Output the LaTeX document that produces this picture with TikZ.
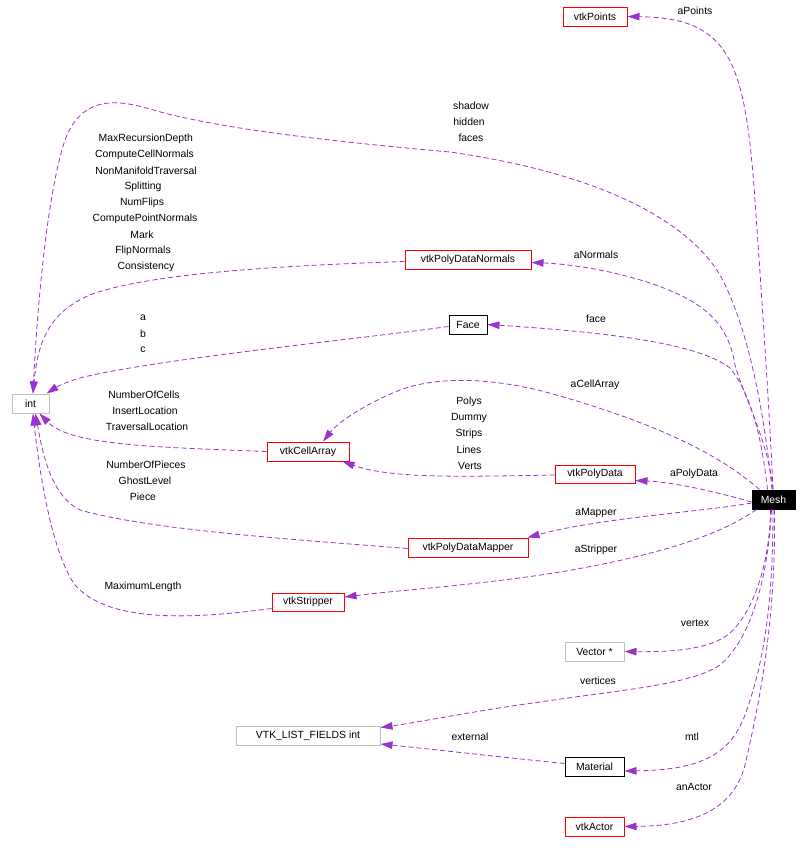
\documentclass[tikz,border=0pt]{standalone}
\usepackage{fontspec}
\setmainfont{Liberation Sans}
\usetikzlibrary{arrows.meta}
\definecolor{purp}{HTML}{9A32CD}
\definecolor{gbox}{HTML}{BFBFBF}
\newcommand\lblfont{\fontsize{10.4}{12}\selectfont}
\begin{document}
\begin{tikzpicture}[x=1pt,y=-1pt,
  box/.style={draw, line width=1pt, inner sep=0pt, font=\lblfont, minimum height=19pt},
  redbox/.style={box, draw=red},
  blkbox/.style={box, draw=black},
  grybox/.style={box, draw=gbox},
  meshbox/.style={box, draw=black, fill=black, text=white},
  edge/.style={draw=purp, line width=0.8pt, dash pattern=on 5pt off 3pt,
    -{Triangle[length=12pt,width=7.5pt,fill=purp]}},
  lab/.style={font=\lblfont, inner sep=0pt}]
\useasboundingbox (0,0) rectangle (808,852);
% nodes
\node[redbox, minimum width=64pt] (vtkpoints) at (595,16.5) {vtkPoints};
\node[redbox, minimum width=126pt] (vtkpdn) at (468,259.5) {vtkPolyDataNormals};
\node[blkbox, minimum width=38pt] (face) at (468,324.5) {Face};
\node[grybox, minimum width=37pt] (int) at (30.5,403.5) {int};
\node[redbox, minimum width=82pt] (cellarray) at (308,451.5) {vtkCellArray};
\node[redbox, minimum width=80pt, minimum height=18pt] (vtkpolydata) at (595,474) {vtkPolyData};
\node[meshbox, minimum width=43pt] (mesh) at (773.5,499.5) {Mesh};
\node[redbox, minimum width=120pt] (vtkpdm) at (468,547.5) {vtkPolyDataMapper};
\node[redbox, minimum width=72pt, minimum height=18pt] (vtkstripper) at (308,602) {vtkStripper};
\node[grybox, minimum width=59pt] (vectorn) at (594.5,651.5) {Vector *};
\node[grybox, minimum width=144pt] (vtklist) at (308,735.5) {VTK\_LIST\_FIELDS int};
\node[blkbox, minimum width=59pt] (material) at (594.5,766.5) {Material};
\node[redbox, minimum width=59pt] (vtkactor) at (594.5,826.5) {vtkActor};
% edges
% aPoints
\draw[edge] ([xshift=-0.5pt]mesh.north) .. controls (770,420) and (762,300) .. (755,200)
  .. controls (745,60) and (730,18) .. (vtkpoints.east);
% shadow hidden faces
\draw[edge] ([xshift=-1.5pt]mesh.north) .. controls (765,420) and (750,330) .. (720,275)
  .. controls (690,225) and (610,175) .. (450,152)
  .. controls (350,143) and (220,130) .. (150,109)
  .. controls (110,97) and (80,100) .. (65,140)
  .. controls (45,200) and (36,330) .. ([xshift=2.5pt]int.north);
% aNormals
\draw[edge] ([xshift=-0.5pt]mesh.north) .. controls (768,440) and (745,400) .. (735,365)
  .. controls (728,320) and (700,300) .. (650,283)
  .. controls (610,270) and (570,264) .. ([yshift=-3pt]vtkpdn.east);
% MaxRecursionDepth ...
\draw[edge] ([yshift=-2pt]vtkpdn.west) .. controls (300,265) and (150,272) .. (90,295)
  .. controls (50,312) and (38,340) .. ([xshift=2.5pt]int.north);
% a b c
\draw[edge] ([yshift=-2pt]face.west) .. controls (350,340) and (150,360) .. (80,378)
  .. controls (65,382) and (55,388) .. ([xshift=-3pt]int.north east);
% face
\draw[edge] ([xshift=-6pt]mesh.north) .. controls (762,440) and (752,395) .. (730,368)
  .. controls (700,345) and (620,333) .. (face.east);
% aCellArray
\draw[edge] ([xshift=8pt]mesh.north west) .. controls (720,455) and (660,425) .. (560,396)
  .. controls (500,378) and (440,375) .. (400,390)
  .. controls (370,402) and (340,420) .. ([xshift=15pt]cellarray.north);
% Polys Dummy Strips Lines Verts
\draw[edge] ([yshift=-1pt]vtkpolydata.west) .. controls (450,477) and (390,478) .. ([xshift=-7pt]cellarray.south east);
% aPolyData
\draw[edge] ([yshift=-2.5pt]mesh.west) .. controls (710,490) and (670,482) .. ([yshift=-6.5pt]vtkpolydata.east);
% NumberOfCells ...
\draw[edge] (cellarray.west) .. controls (150,447) and (70,445) .. ([xshift=9pt]int.south);
% NumberOfPieces ...
\draw[edge] ([yshift=-1pt]vtkpdm.west) .. controls (300,540) and (150,530) .. (80,510)
  .. controls (50,495) and (42,450) .. ([xshift=5pt]int.south);
% aMapper
\draw[edge] ([yshift=-3.5pt]mesh.west) .. controls (700,512) and (600,518) .. ([xshift=-1pt]vtkpdm.north east);
% MaximumLength
\draw[edge] ([yshift=-6.5pt]vtkstripper.west) .. controls (200,618) and (110,625) .. (75,585)
  .. controls (50,550) and (38,460) .. ([xshift=2.5pt]int.south);
% aStripper
\draw[edge] ([xshift=5pt]mesh.south west) .. controls (720,535) and (660,555) .. (560,572)
  .. controls (480,585) and (400,590) .. ([yshift=5pt]vtkstripper.east);
% vertex
\draw[edge] ([xshift=-3pt]mesh.south) .. controls (770,560) and (755,610) .. (730,633)
  .. controls (710,650) and (670,652) .. (vectorn.east);
% vertices
\draw[edge] ([xshift=-2pt]mesh.south) .. controls (768,580) and (750,640) .. (720,665)
  .. controls (690,685) and (620,690) .. (540,702)
  .. controls (480,710) and (420,722) .. ([yshift=8pt]vtklist.east);
% external
\draw[edge] ([yshift=3pt]material.west) .. controls (500,757) and (430,749) .. ([yshift=1.5pt]vtklist.south east);
% mtl
\draw[edge] ([xshift=-0.5pt]mesh.south) .. controls (773,600) and (765,660) .. (745,715)
  .. controls (730,755) and (700,770) .. ([yshift=-4.5pt]material.east);
% anActor
\draw[edge] ([xshift=1pt]mesh.south) .. controls (776,620) and (760,700) .. (745,765)
  .. controls (735,805) and (700,826) .. (vtkactor.east);
% labels
\node[lab] (l1) at (695,11) {aPoints};
\node[lab] (l2) at (471,106) {shadow};
\node[lab] (l3) at (469,122) {hidden};
\node[lab] (l4) at (471,138) {faces};
\node[lab] (l5) at (145.8,139) {MaxRecursionDepth};
\node[lab] (l6) at (144.5,155) {ComputeCellNormals};
\node[lab] (l7) at (146,171) {NonManifoldTraversal};
\node[lab] (l8) at (143,187) {Splitting};
\node[lab] (l9) at (142,203) {NumFlips};
\node[lab] (l10) at (145,219) {ComputePointNormals};
\node[lab] (l11) at (142,235) {Mark};
\node[lab] (l12) at (143,251) {FlipNormals};
\node[lab] (l13) at (146,267) {Consistency};
\node[lab] (l14) at (596,255) {aNormals};
\node[lab] (l15) at (143,318) {a};
\node[lab] (l16) at (143,334) {b};
\node[lab] (l17) at (143,350) {c};
\node[lab] (l18) at (596,319) {face};
\node[lab] (l19) at (595,385) {aCellArray};
\node[lab] (l20) at (144,395) {NumberOfCells};
\node[lab] (l21) at (145,411) {InsertLocation};
\node[lab] (l22) at (147,427) {TraversalLocation};
\node[lab] (l23) at (469,402) {Polys};
\node[lab] (l24) at (469,418) {Dummy};
\node[lab] (l25) at (469,434) {Strips};
\node[lab] (l26) at (469,450) {Lines};
\node[lab] (l27) at (470,466) {Verts};
\node[lab] (l28) at (694,474) {aPolyData};
\node[lab] (l29) at (146,465) {NumberOfPieces};
\node[lab] (l30) at (145,481) {GhostLevel};
\node[lab] (l31) at (143,497) {Piece};
\node[lab] (l32) at (596,513) {aMapper};
\node[lab] (l33) at (596,550) {aStripper};
\node[lab] (l34) at (143,587) {MaximumLength};
\node[lab] (l35) at (695,623) {vertex};
\node[lab] (l36) at (598,681) {vertices};
\node[lab] (l37) at (470,737) {external};
\node[lab] (l38) at (692,737) {mtl};
\node[lab] (l39) at (694,787) {anActor};
\end{tikzpicture}
\end{document}
